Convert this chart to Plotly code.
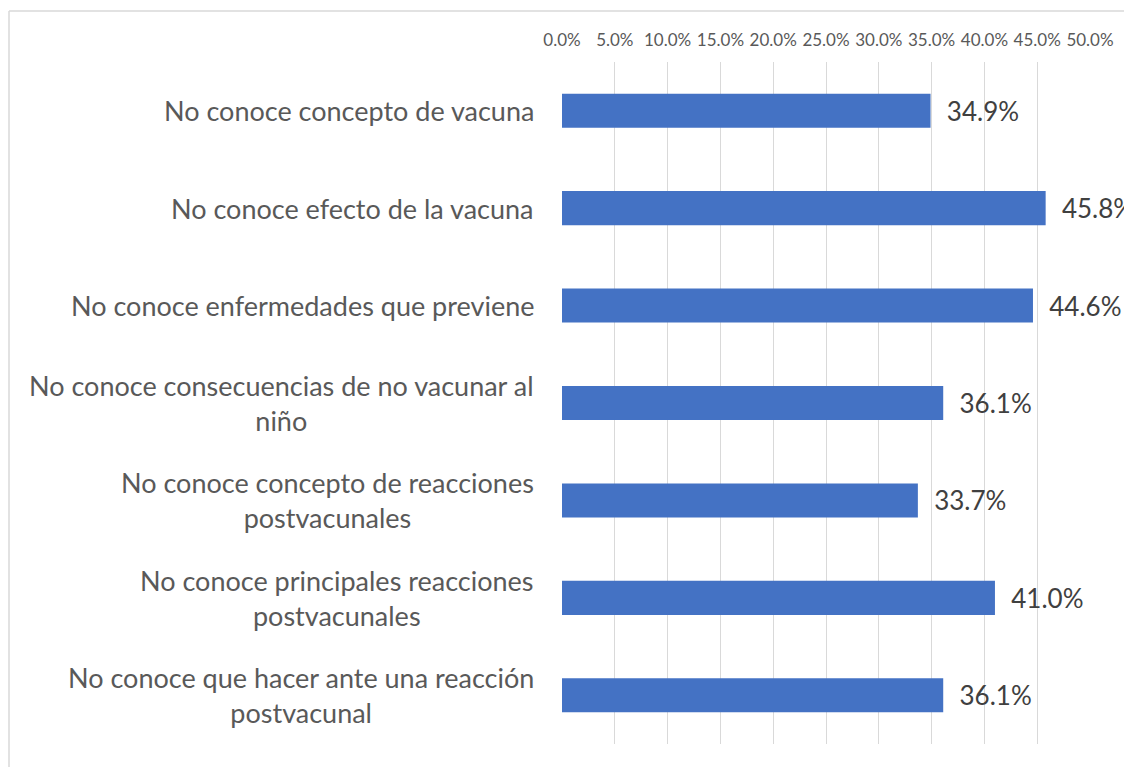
import plotly.graph_objects as go

categories = [
    "No conoce concepto de vacuna",
    "No conoce efecto de la vacuna",
    "No conoce enfermedades que previene",
    "No conoce consecuencias de no vacunar al<br>niño",
    "No conoce concepto de reacciones<br>postvacunales",
    "No conoce principales reacciones<br>postvacunales",
    "No conoce que hacer ante una reacción<br>postvacunal",
]
values = [34.9, 45.8, 44.6, 36.1, 33.7, 41.0, 36.1]
tick_vals = [0, 5, 10, 15, 20, 25, 30, 35, 40, 45, 50]
tick_text = ["0.0%", "5.0%", "10.0%", "15.0%", "20.0%", "25.0%", "30.0%",
             "35.0%", "40.0%", "45.0%", "50.0%"]

# page body has an 8px margin, so the figure is offset by 8px
W, H = 1124, 759
L, R, T, B = 554, 42, 54, 23
pw, ph = W - L - R, H - T - B

fig = go.Figure()
fig.add_trace(go.Bar(
    x=values, y=categories, orientation="h",
    marker=dict(color="#4472C4", line=dict(width=0)),
    width=0.35,
    text=["\u00a0\u00a0" + f"{v:.1f}%" for v in values],
    textposition="outside",
    textfont=dict(family="Lato", size=26, color="#404040"),
    cliponaxis=False,
    hoverinfo="skip",
))

for c in categories:
    fig.add_annotation(
        x=0, xref="paper", y=c, yref="y",
        text=c, showarrow=False, xanchor="right", yanchor="middle",
        align="center", xshift=-26,
        font=dict(family="Lato", size=27, color="#595959"),
    )

# chart border (left and top edges visible)
bx0 = (1 - L) / pw
by1 = 1 + (T - 3) / ph
fig.add_shape(type="line", xref="paper", yref="paper",
              x0=bx0, x1=bx0, y0=-1, y1=by1,
              line=dict(color="#d9d9d9", width=1.5))
fig.add_shape(type="line", xref="paper", yref="paper",
              x0=bx0, x1=2, y0=by1, y1=by1,
              line=dict(color="#d9d9d9", width=1.5))

fig.update_layout(
    width=W, height=H,
    margin=dict(l=L, r=R, t=T, b=B),
    paper_bgcolor="white", plot_bgcolor="white",
    showlegend=False,
    xaxis=dict(
        side="top", range=[0, 50], tickvals=tick_vals, ticktext=tick_text,
        showgrid=True, gridcolor="#d9d9d9", gridwidth=1,
        zeroline=False, showline=False, ticks="",
        ticklabelstandoff=12,
        tickfont=dict(family="Lato", size=17, color="#595959"),
    ),
    yaxis=dict(
        autorange="reversed", showticklabels=False, showgrid=False,
        zeroline=False, showline=False, ticks="",
    ),
)

fig.write_html("out.html")
